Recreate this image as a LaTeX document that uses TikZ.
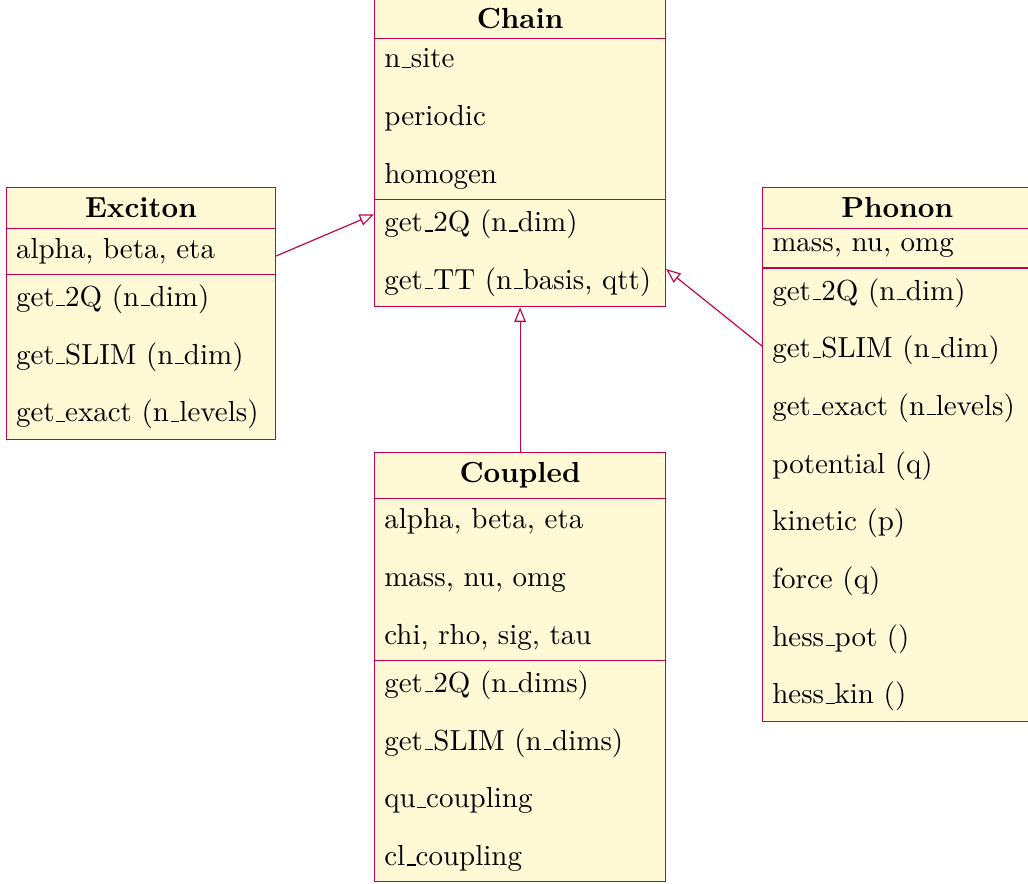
\documentclass[tikz,border=0pt]{standalone}
\usepackage{tikz}
\usetikzlibrary{shapes.multipart,arrows.meta,positioning}
\definecolor{classfill}{RGB}{255,249,214}
\definecolor{classline}{RGB}{196,0,72}
\newcommand{\ClassName}[1]{\textbf{#1}}
\renewcommand{\_}{\leavevmode\kern.06em\vbox{\hrule width.3em}}

\begin{document}
\begin{tikzpicture}[
	umlclass/.style={rectangle split, rectangle split parts=3, draw=classline, fill=classfill,
		align=left, rectangle split part align={center,left,left},
		font={\fontsize{10}{19.9}\selectfont}},
	inherit/.style={draw=classline, -{Triangle[open,length=5pt,width=4pt]}}]
	\useasboundingbox (-129pt,-1pt) rectangle (225.5pt,-305.8pt);

	% Define nodes
	\node[umlclass, minimum width=100.3pt, anchor=north west] at (0,0) (Chain)
		{\ClassName{Chain}
		\nodepart{two} n\_site\\periodic\\homogen
		\nodepart{three} get\_2Q (n\_dim)\\get\_TT (n\_basis, qtt)};
	\node[umlclass, minimum width=92.8pt, anchor=north east] at ([xshift=-33.8pt, yshift=-65.5pt]Chain.north west) (Exciton)
		{\ClassName{Exciton}
		\nodepart{two} alpha, beta, eta
		\nodepart{three} get\_2Q (n\_dim)\\get\_SLIM (n\_dim)\\get\_exact (n\_levels)};
	\node[umlclass, minimum width=92.8pt, anchor=north west] at ([xshift=33.1pt, yshift=-65.5pt]Chain.north east) (Phonon)
		{\ClassName{Phonon}
		\nodepart{two} mass, nu, omg
		\nodepart{three} get\_2Q (n\_dim)\\get\_SLIM (n\_dim)\\get\_exact (n\_levels)\\potential (q)\\kinetic (p)\\force (q)\\hess\_pot ()\\hess\_kin ()};
	\node[umlclass, minimum width=100.3pt, below=49.7pt of Chain] (Coupled)
		{\ClassName{Coupled}
		\nodepart{two} alpha, beta, eta\\mass, nu, omg\\chi, rho, sig, tau
		\nodepart{three} get\_2Q (n\_dims)\\get\_SLIM (n\_dims)\\qu\_coupling\\cl\_coupling};

	% Connect the nodes
	\draw[inherit] (Exciton) -- (Chain);
	\draw[inherit] (Phonon) -- (Chain);
	\draw[inherit] (Coupled) -- (Chain);
\end{tikzpicture}
\end{document}
